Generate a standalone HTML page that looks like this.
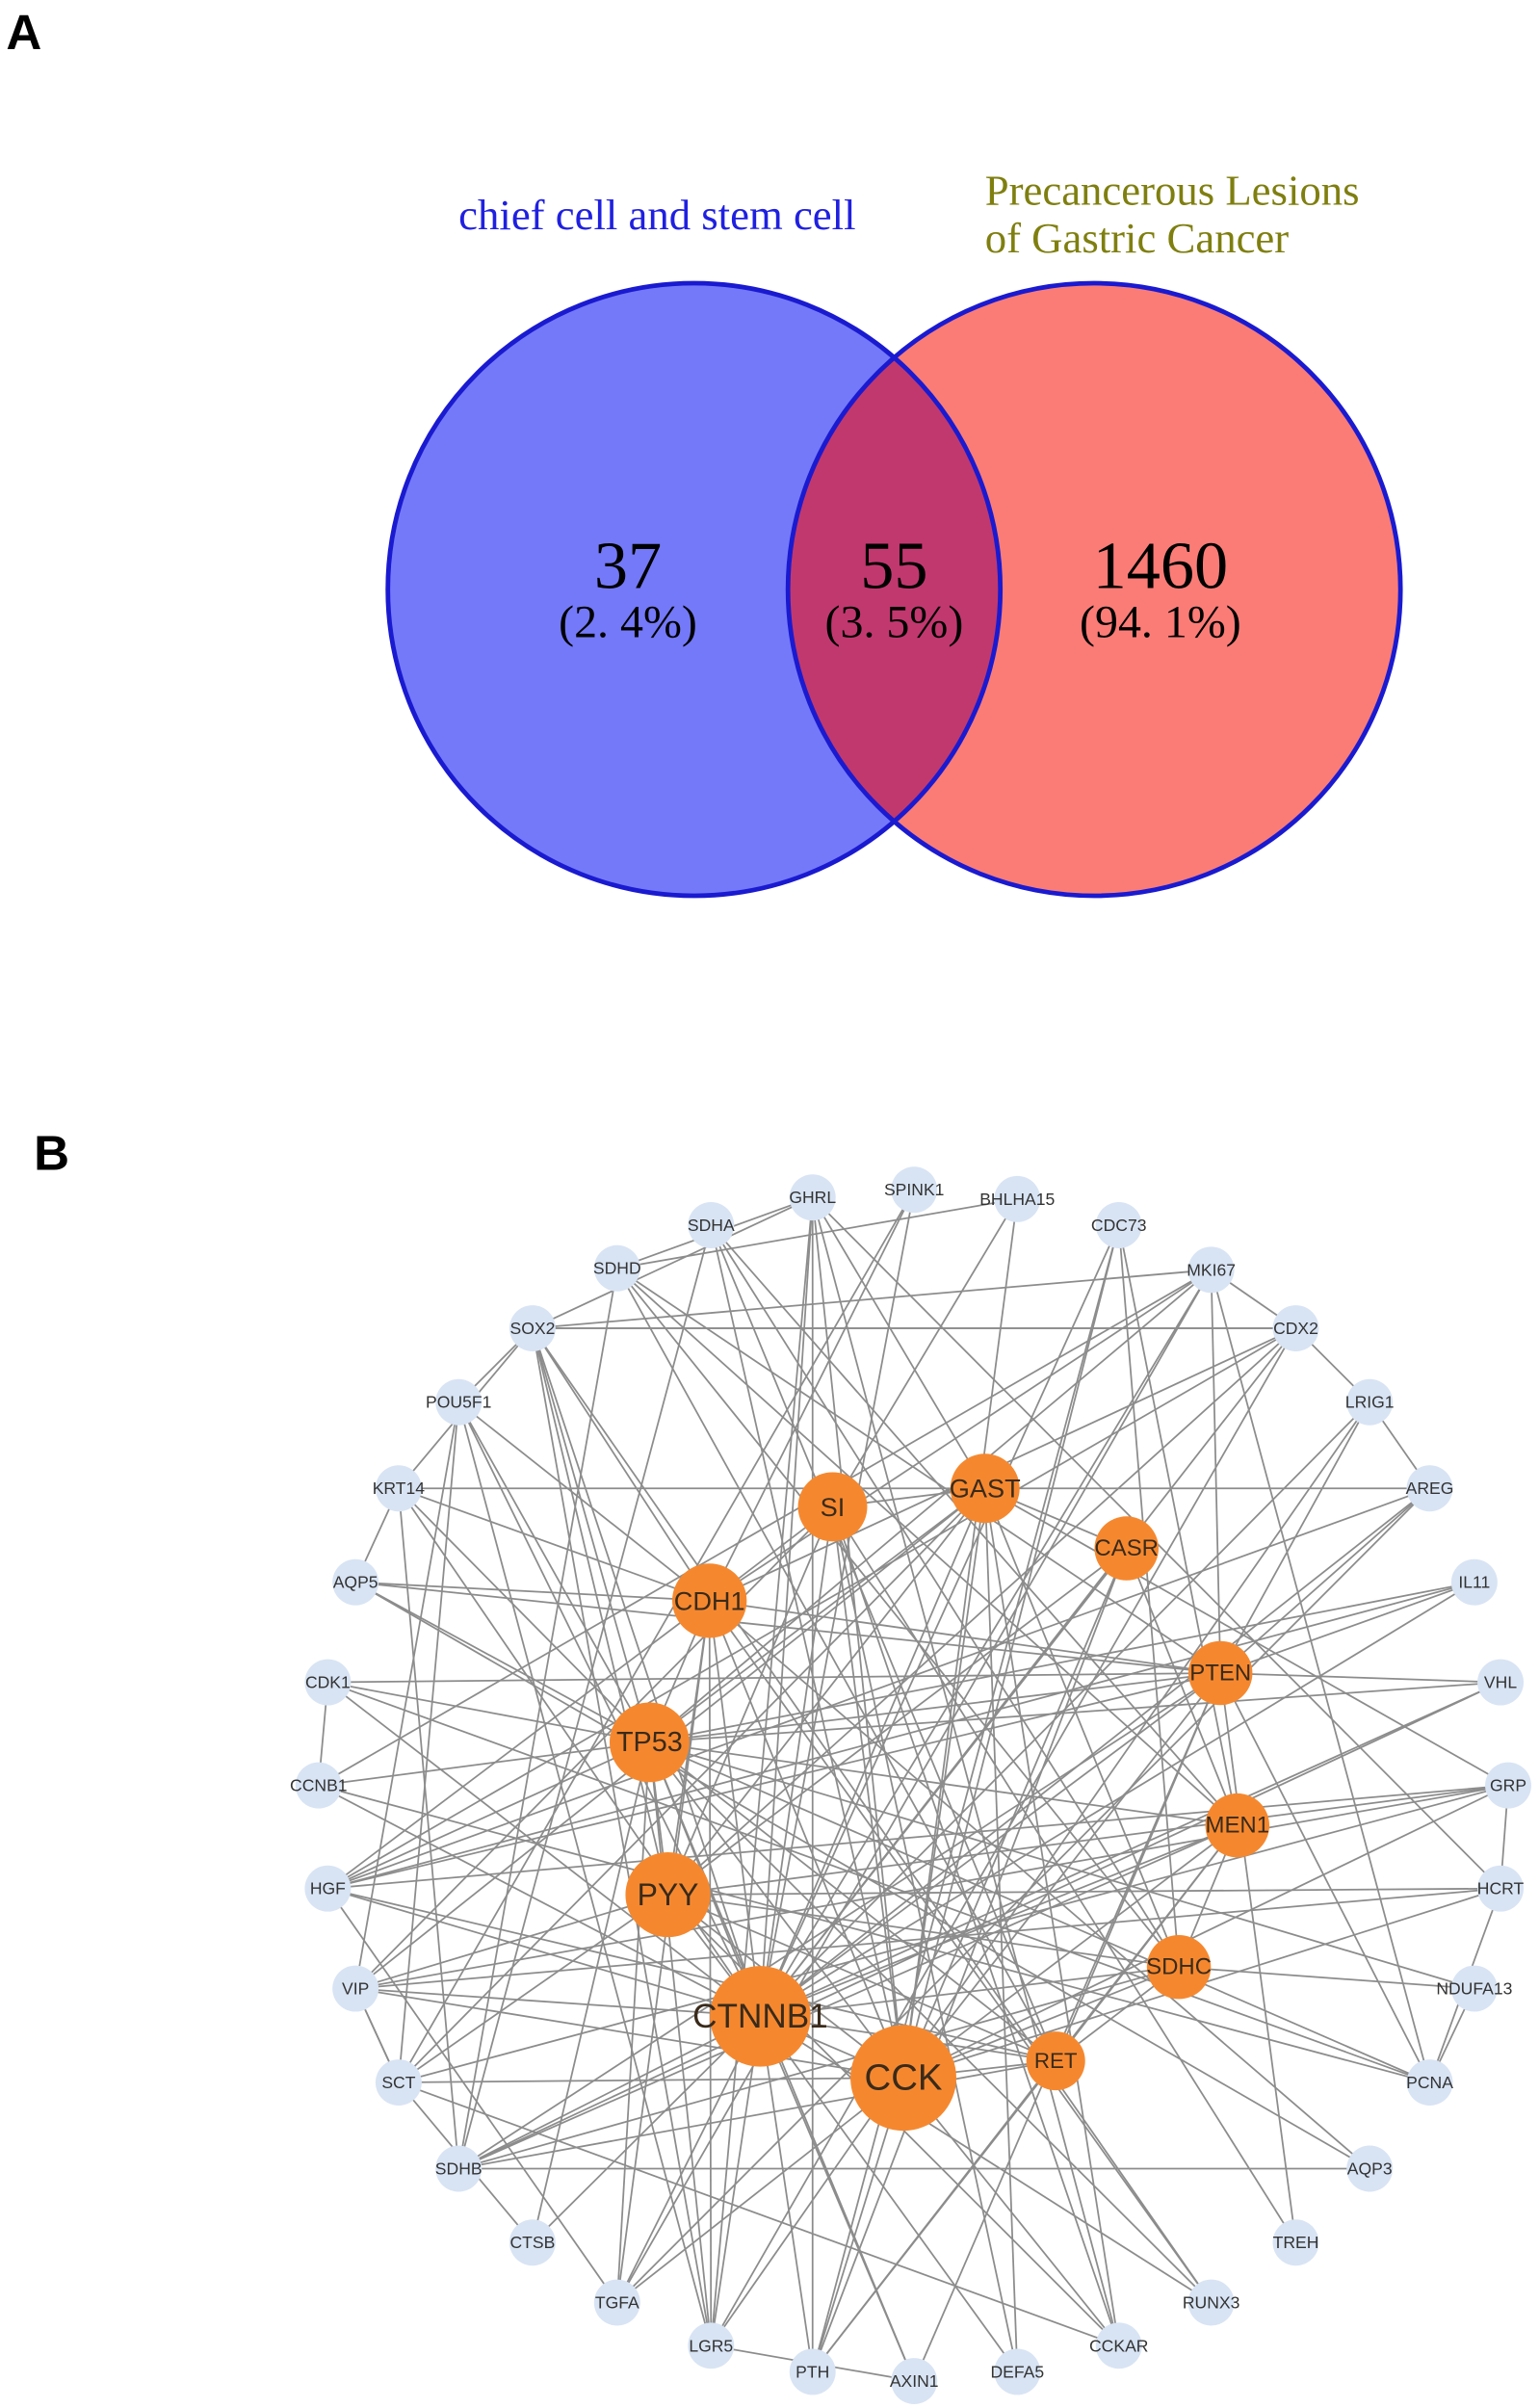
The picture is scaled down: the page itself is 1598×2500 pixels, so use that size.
<!DOCTYPE html>
<html><head><meta charset="utf-8"><style>
html,body{margin:0;padding:0;background:#fff}
svg{display:block}
</style></head><body>
<svg id="fig" width="1598" height="2500" viewBox="0 0 1000 1564.5" xmlns="http://www.w3.org/2000/svg" font-family="Liberation Sans, sans-serif">
<defs>
<clipPath id="clipL"><circle cx="451" cy="383" r="199"/></clipPath>
</defs>
<text x="4" y="32" font-size="32" font-weight="bold">A</text>
<g>
<circle cx="451" cy="383" r="199" fill="#7479f9"/>
<circle cx="711" cy="383" r="199" fill="#fb7c77"/>
<circle cx="711" cy="383" r="199" fill="#c1386f" clip-path="url(#clipL)"/>
<circle cx="451" cy="383" r="199" fill="none" stroke="#1a1ad0" stroke-width="3"/>
<circle cx="711" cy="383" r="199" fill="none" stroke="#1a1ad0" stroke-width="3"/>
<text x="427" y="149" font-family="Liberation Serif, serif" font-size="28" fill="#2020e0" text-anchor="middle">chief cell and stem cell</text>
<text x="640" y="133" font-family="Liberation Serif, serif" font-size="28" fill="#7f7f10">Precancerous Lesions</text>
<text x="640" y="164" font-family="Liberation Serif, serif" font-size="28" fill="#7f7f10">of Gastric Cancer</text>
<g font-family="Liberation Serif, serif" text-anchor="middle" fill="#000">
<text x="408" y="382" font-size="44">37</text>
<text x="408" y="414" font-size="30">(2. 4%)</text>
<text x="581" y="382" font-size="44">55</text>
<text x="581" y="414" font-size="30">(3. 5%)</text>
<text x="754" y="382" font-size="44">1460</text>
<text x="754" y="414" font-size="30">(94. 1%)</text>
</g>
</g>
<text x="22" y="760" font-size="32" font-weight="bold">B</text>
<g id="net"></g>
</svg>
<script>
const nodeNames=["GHRL","SPINK1","BHLHA15","SDHA","CDC73","SDHD","MKI67","SOX2","CDX2","POU5F1","LRIG1","KRT14","AREG","AQP5","IL11","CDK1","VHL","CCNB1","GRP","HGF","HCRT","VIP","NDUFA13","SCT","PCNA","SDHB","AQP3","CTSB","TREH","TGFA","RUNX3","LGR5","CCKAR","PTH","AXIN1","DEFA5",
"SI","GAST","CASR","CDH1","PTEN","TP53","MEN1","PYY","SDHC","CTNNB1","CCK","RET"];
const nodeX=[528,594,661,462,727,401,787,346,842,298,890,259,929,231,958,213,975,207,980,213,975,231,958,259,929,298,890,346,842,401,787,462,727,528,594,661,
541,640,732,461,793,422,804,434,766,494,587,686];
const nodeY=[778,773,779,796,796,824,825,863,863,911,911,967,967,1028,1028,1093,1093,1160,1160,1227,1227,1292,1292,1353,1353,1409,1409,1457,1457,1496,1496,1524,1524,1541,1547,1541,
979,967,1006,1040,1087,1132,1186,1231,1278,1310,1350,1339];
const nodeDegree=[1,1,1,1,1,1,1,1,1,1,1,1,1,1,1,1,1,1,1,1,1,1,1,1,1,1,1,1,1,1,1,1,1,1,1,1,
5,5,4,6,4,7,4,8,4,11,12,3];
const hubFont=[17,17,15,17,15,18,15,20,15,22,24,14];
const edgesStr="GHRL-PTH GHRL-CCK GHRL-GAST GHRL-CTNNB1 GHRL-LGR5 GHRL-CCKAR GHRL-SDHD SPINK1-CTNNB1 SPINK1-CDH1 BHLHA15-SI BHLHA15-SDHD CDC73-MEN1 CDC73-CTNNB1 CDC73-PTH CDC73-SDHC CDC73-CCK SDHA-SDHC SDHA-SDHB SDHA-RET SDHA-CCK SDHD-SDHC SDHD-SDHB SDHD-MEN1 SDHD-PTEN SDHD-RET MKI67-TP53 MKI67-CTNNB1 MKI67-PTEN MKI67-CCNB1 MKI67-SOX2 MKI67-PCNA MKI67-CDH1 MKI67-TGFA SOX2-POU5F1 SOX2-CTNNB1 SOX2-TP53 SOX2-CDX2 SOX2-LGR5 SOX2-PYY SOX2-CDH1 SOX2-KRT14 CDX2-CDH1 CDX2-CTNNB1 CDX2-LGR5 CDX2-SOX2 CDX2-PYY CDX2-HGF POU5F1-TP53 POU5F1-CTNNB1 POU5F1-CDH1 POU5F1-LGR5 POU5F1-SCT POU5F1-VIP LRIG1-AREG LRIG1-LGR5 LRIG1-PTEN LRIG1-CTNNB1 KRT14-TP53 KRT14-CDH1 KRT14-CTNNB1 KRT14-AREG KRT14-SDHB AREG-CTNNB1 AREG-HGF AREG-TGFA AREG-PTEN AQP5-CDH1 AQP5-TP53 AQP5-PTEN AQP5-AQP3 IL11-CTNNB1 IL11-TP53 IL11-PTEN VHL-TP53 VHL-CTNNB1 VHL-PTEN VHL-SDHB CDK1-TP53 CDK1-CCNB1 CDK1-CTNNB1 CDK1-PCNA CDK1-PTEN CCNB1-TP53 CCNB1-CTNNB1 CCNB1-PCNA GRP-GAST GRP-CCK GRP-PYY GRP-VIP GRP-SCT GRP-HGF HGF-CTNNB1 HGF-TP53 HGF-CDH1 HGF-PTEN HGF-RET HCRT-CCK HCRT-PYY HCRT-GHRL HCRT-VIP VIP-PYY VIP-CCK VIP-SCT VIP-GAST VIP-SI VIP-CTNNB1 NDUFA13-SDHC NDUFA13-TP53 SCT-CCK SCT-PYY SCT-GAST SCT-VIP SCT-CCKAR PCNA-TP53 PCNA-PTEN SDHB-SDHC SDHB-MEN1 SDHB-RET SDHB-PTEN SDHB-CTNNB1 AQP3-CDH1 CTSB-CTNNB1 CTSB-TP53 TREH-SI TGFA-CTNNB1 TGFA-HGF TGFA-TP53 TGFA-CDH1 TGFA-CCK RUNX3-CDH1 RUNX3-TP53 RUNX3-CTNNB1 LGR5-CTNNB1 LGR5-CDH1 LGR5-TP53 LGR5-AXIN1 CCKAR-CCK CCKAR-GAST CCKAR-PYY CCKAR-SI PTH-CASR PTH-MEN1 PTH-CTNNB1 PTH-RET PTH-CCK AXIN1-CTNNB1 AXIN1-TP53 AXIN1-PTEN DEFA5-CTNNB1 DEFA5-SI SI-CCK SI-GAST SI-CTNNB1 SI-CDH1 SI-PYY GAST-CCK GAST-CASR GAST-PYY GAST-CTNNB1 GAST-SDHC GAST-TP53 CASR-CCK CASR-MEN1 CASR-PYY CASR-CTNNB1 CDH1-CTNNB1 CDH1-TP53 CDH1-PTEN CDH1-CCK CDH1-PYY PTEN-TP53 PTEN-CTNNB1 PTEN-CCK PTEN-RET TP53-CTNNB1 TP53-MEN1 TP53-RET TP53-PYY TP53-CCK MEN1-RET MEN1-CTNNB1 MEN1-CCK MEN1-SDHC PYY-CCK PYY-CTNNB1 PYY-SDHC PYY-RET SDHC-RET SDHC-CTNNB1 SDHC-CCK CTNNB1-CCK CTNNB1-RET CCK-RET GHRL-SOX2 SPINK1-SCT BHLHA15-CCK SDHA-MEN1 MKI67-CDX2 CDX2-LRIG1 AQP5-KRT14 IL11-HGF GRP-HCRT HCRT-PCNA NDUFA13-PCNA AQP3-SDHB TREH-PTEN RUNX3-SOX2 DEFA5-GAST CTSB-SCT";
const edges=edgesStr.split(" ").map(s=>s.split("-"));
const NS="http://www.w3.org/2000/svg";
const net=document.getElementById("net");
const idx=n=>nodeNames.indexOf(n);
const eg=document.createElementNS(NS,"g");
net.appendChild(eg);
edges.forEach(([a,b])=>{
  const i=idx(a),j=idx(b); if(i<0||j<0)return;
  const l=document.createElementNS(NS,"line");
  
  
  l.setAttribute("x1",nodeX[i]);l.setAttribute("y1",nodeY[i]);
  l.setAttribute("x2",nodeX[j]);l.setAttribute("y2",nodeY[j]);
  l.setAttribute("stroke","#8c8c8c");l.setAttribute("stroke-width","1.1");
  eg.appendChild(l);
});
const radius=d=>d<=1?15:14+d*1.7;
nodeNames.forEach((n,i)=>{
  const hub=nodeDegree[i]>1;
  const g=document.createElementNS(NS,"g");
  
  
  const c=document.createElementNS(NS,"circle");
  c.setAttribute("cx",nodeX[i]);c.setAttribute("cy",nodeY[i]);
  c.setAttribute("r",radius(nodeDegree[i]));
  c.setAttribute("fill",hub?"#f5882f":"#d8e4f4");
  g.appendChild(c);
  const t=document.createElementNS(NS,"text");
  t.setAttribute("x",nodeX[i]);t.setAttribute("y",nodeY[i]);
  t.setAttribute("text-anchor","middle");t.setAttribute("dominant-baseline","central");
  t.setAttribute("font-size",hub?hubFont[i-36]:11);
  t.setAttribute("fill",hub?"#3a2a1a":"#333");
  t.textContent=n;
  g.appendChild(t);
  net.appendChild(g);
});
</script>
</body></html>
